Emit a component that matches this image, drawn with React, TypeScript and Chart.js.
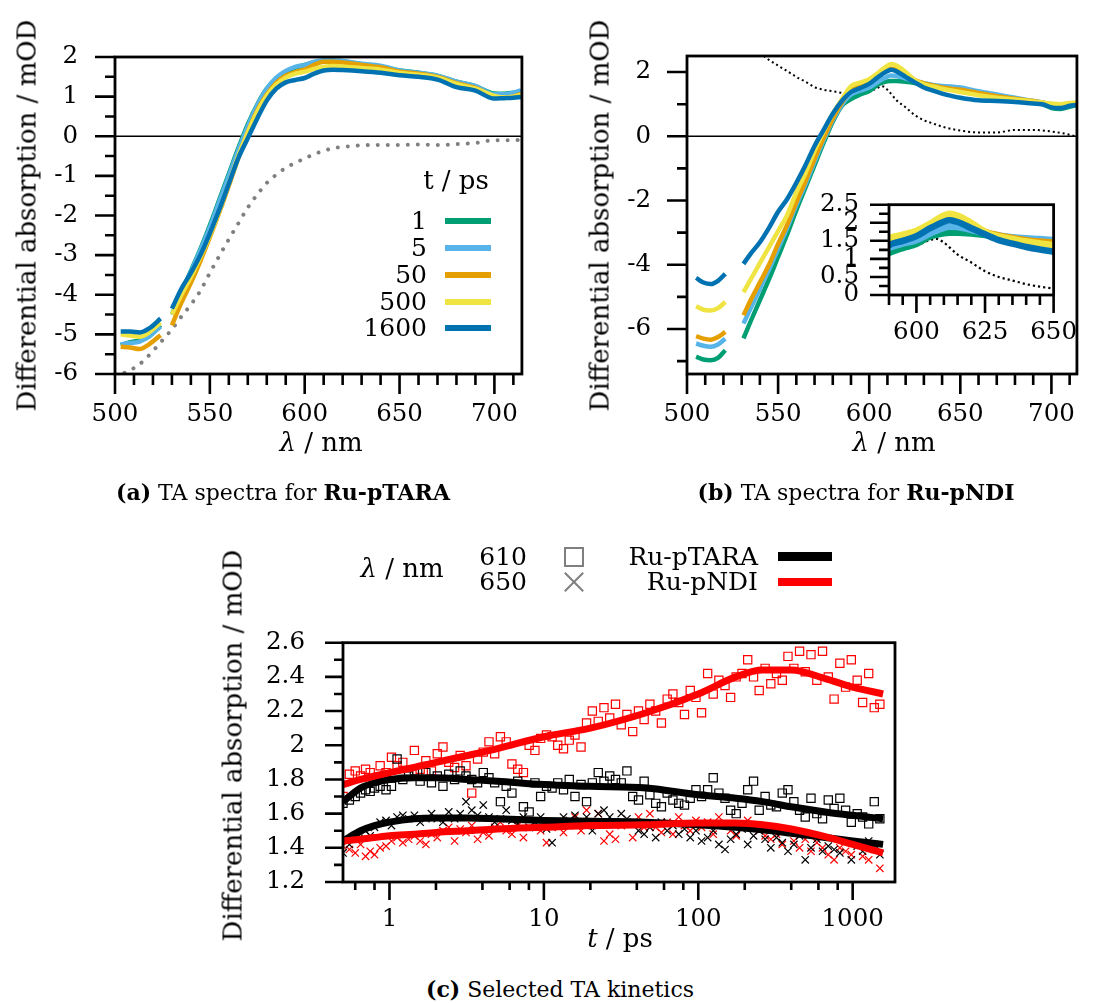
import React, { useEffect, useRef } from 'react';
import { Chart, registerables } from 'chart.js';

Chart.register(...registerables);

const FONT = '"DejaVu Serif", serif';
const TICK_SIZE = 24.5;
const C_GREEN = '#009e73';
const C_LBLUE = '#56b4e9';
const C_ORANGE = '#e69f00';
const C_YELLOW = '#f0e442';
const C_BLUE = '#0072b2';

// ---------------- Panel (a): Ru-pTARA spectra ----------------
const delaysA = ['1', '5', '50', '500', '1600'];
const lambdaA = [503, 508, 513, 518, 524, 527, 530, 535, 540, 545, 550, 555, 560, 565, 570, 575, 580, 585, 590, 595, 600, 605, 610, 615, 620, 630, 640, 650, 660, 670, 680, 690, 700, 705, 710, 714];
const a_1ps = [-5.27, -5.2, -5.15, -5.05, -4.77, null, -4.5, -3.95, -3.4, -2.85, -2.25, -1.6, -0.95, -0.3, 0.3, 0.8, 1.2, 1.45, 1.62, 1.73, 1.8, 1.86, 1.9, 1.9, 1.88, 1.82, 1.76, 1.66, 1.6, 1.52, 1.38, 1.26, 1.08, 1.07, 1.1, 1.13];
const a_5ps = [-5.25, -5.22, -5.18, -5.05, -4.8, null, -4.5, -3.95, -3.42, -2.88, -2.3, -1.65, -1.0, -0.35, 0.25, 0.78, 1.2, 1.48, 1.65, 1.75, 1.8, 1.88, 1.92, 1.92, 1.9, 1.83, 1.78, 1.66, 1.6, 1.53, 1.38, 1.27, 1.06, 1.06, 1.1, 1.16];
const a_50ps = [-5.31, -5.33, -5.37, -5.25, -5.02, null, -4.77, -4.2, -3.7, -3.15, -2.55, -1.92, -1.25, -0.55, 0.1, 0.65, 1.05, 1.35, 1.53, 1.62, 1.68, 1.8, 1.88, 1.88, 1.86, 1.8, 1.74, 1.63, 1.58, 1.5, 1.34, 1.22, 1.0, 0.98, 1.0, 1.07];
const a_500ps = [-5.0, -5.03, -5.06, -4.95, -4.7, null, -4.5, -4.0, -3.55, -3.05, -2.5, -1.88, -1.2, -0.5, 0.1, 0.62, 1.02, 1.3, 1.48, 1.58, 1.63, 1.7, 1.75, 1.77, 1.76, 1.72, 1.68, 1.6, 1.55, 1.48, 1.32, 1.2, 1.02, 0.98, 1.0, 1.04];
const a_1600ps = [-4.93, -4.93, -4.95, -4.85, -4.6, null, -4.35, -3.85, -3.45, -3.0, -2.45, -1.85, -1.2, -0.55, -0.05, 0.45, 0.9, 1.2, 1.36, 1.42, 1.47, 1.58, 1.66, 1.68, 1.67, 1.64, 1.6, 1.54, 1.5, 1.43, 1.24, 1.15, 0.95, 0.96, 0.97, 0.99];
const lambdaAgs = [505, 510, 515, 520, 525, 530, 535, 540, 545, 550, 555, 560, 565, 570, 575, 580, 585, 590, 595, 600, 605, 610, 615, 620, 630, 640, 650, 660, 670, 680, 690, 700, 710, 714];
const a_ground = [-5.97, -5.85, -5.67, -5.42, -5.15, -4.87, -4.55, -4.25, -3.9, -3.45, -3.02, -2.6, -2.2, -1.8, -1.47, -1.18, -0.97, -0.8, -0.67, -0.56, -0.45, -0.37, -0.3, -0.27, -0.23, -0.22, -0.22, -0.21, -0.22, -0.2, -0.17, -0.1, -0.1, -0.09];

// ---------------- Panel (b): Ru-pNDI spectra ----------------
const lambdaB = [505, 509, 513, 517, 521, 526, 531, 535, 540, 545, 550, 555, 560, 565, 570, 575, 580, 585, 590, 595, 600, 605, 610, 612, 615, 620, 625, 630, 635, 640, 645, 650, 660, 670, 680, 690, 695, 700, 705, 710, 714];
const b_1ps = [-6.86, -6.95, -6.97, -6.9, -6.66, null, -6.29, -5.75, -5.1, -4.45, -3.75, -3.05, -2.3, -1.6, -0.9, -0.2, 0.45, 0.95, 1.16, 1.3, 1.41, 1.62, 1.71, 1.72, 1.72, 1.7, 1.66, 1.6, 1.55, 1.5, 1.47, 1.45, 1.35, 1.25, 1.15, 1.05, 1.0, 0.88, 0.85, 0.92, 0.98];
const b_5ps = [-6.45, -6.52, -6.55, -6.48, -6.3, null, -5.83, -5.35, -4.75, -4.15, -3.5, -2.85, -2.15, -1.5, -0.8, -0.12, 0.5, 0.98, 1.3, 1.42, 1.52, 1.7, 1.86, 1.89, 1.88, 1.8, 1.72, 1.65, 1.6, 1.57, 1.55, 1.52, 1.4, 1.3, 1.2, 1.1, 1.05, 1.0, 0.95, 0.98, 1.0];
const b_50ps = [-6.22, -6.3, -6.33, -6.25, -6.09, null, -5.57, -5.1, -4.55, -4.0, -3.35, -2.75, -2.05, -1.4, -0.7, -0.05, 0.55, 1.05, 1.45, 1.57, 1.7, 1.87, 2.05, 2.1, 2.07, 1.93, 1.75, 1.65, 1.58, 1.52, 1.48, 1.45, 1.35, 1.25, 1.17, 1.1, 1.05, 1.0, 0.98, 1.0, 1.02];
const b_500ps = [-5.29, -5.4, -5.42, -5.35, -5.16, null, -4.85, -4.45, -3.95, -3.45, -2.95, -2.45, -1.75, -1.15, -0.45, 0.15, 0.7, 1.15, 1.56, 1.67, 1.78, 1.98, 2.2, 2.25, 2.2, 2.0, 1.75, 1.62, 1.55, 1.48, 1.43, 1.38, 1.28, 1.2, 1.15, 1.08, 1.05, 1.02, 1.0, 1.04, 1.05];
const b_1600ps = [-4.41, -4.55, -4.6, -4.5, -4.28, null, -3.97, -3.65, -3.3, -2.85, -2.35, -1.95, -1.45, -0.9, -0.3, 0.2, 0.7, 1.1, 1.38, 1.5, 1.63, 1.85, 2.03, 2.07, 2.02, 1.85, 1.68, 1.52, 1.42, 1.33, 1.26, 1.2, 1.12, 1.1, 1.07, 1.02, 1.0, 0.9, 0.88, 0.95, 0.98];
const lambdaBgs = [540, 545, 550, 555, 560, 565, 570, 575, 580, 585, 590, 595, 600, 605, 607, 610, 615, 620, 625, 630, 635, 640, 645, 650, 660, 670, 680, 690, 700, 710, 714];
const b_ground = [2.6, 2.38, 2.2, 2.03, 1.85, 1.7, 1.53, 1.45, 1.4, 1.35, 1.27, 1.32, 1.38, 1.52, 1.56, 1.45, 1.12, 0.9, 0.66, 0.5, 0.4, 0.3, 0.23, 0.18, 0.12, 0.12, 0.2, 0.2, 0.15, 0.05, -0.02];

// ---------------- Panel (c): kinetics ----------------
const timesC = [0.5, 0.55, 0.6, 0.65, 0.7, 0.75, 0.8, 0.87, 0.95, 1.03, 1.12, 1.22, 1.33, 1.45, 1.58, 1.72, 1.87, 2.04, 2.22, 2.42, 2.64, 2.87, 3.13, 3.41, 3.72, 4.05, 4.41, 4.8, 5.23, 5.7, 6.21, 6.77, 7.37, 8.03, 8.75, 9.53, 10.4, 11.3, 12.3, 13.4, 14.6, 15.9, 17.4, 18.9, 20.6, 22.5, 24.5, 26.7, 29.1, 31.7, 34.5, 37.6, 41, 44.6, 48.6, 53, 57.7, 62.9, 68.5, 74.7, 81.4, 88.7, 96.6, 105, 115, 125, 136, 149, 162, 176, 192, 209, 228, 248, 271, 295, 321, 350, 381, 416, 453, 493, 537, 586, 638, 695, 758, 826, 900, 980, 1070, 1160, 1270, 1380, 1500];
const pTARA610 = [1.66, 1.68, 1.70, 1.72, 1.74, 1.73, 1.75, 1.76, 1.74, 1.76, 1.92, 1.80, 1.82, 1.85, 1.79, 1.84, 1.78, 1.82, 1.76, 1.83, 1.80, 1.85, 1.82, 1.80, 1.78, 1.84, 1.81, 1.78, 1.67, 1.76, 1.72, 1.79, 1.64, 1.61, 1.78, 1.70, 1.76, 1.75, 1.78, 1.74, 1.80, 1.70, 1.77, 1.67, 1.78, 1.84, 1.79, 1.82, 1.80, 1.78, 1.85, 1.70, 1.68, 1.79, 1.71, 1.66, 1.64, 1.72, 1.68, 1.66, 1.65, 1.69, 1.74, 1.70, 1.74, 1.81, 1.72, 1.69, 1.62, 1.60, 1.66, 1.74, 1.79, 1.62, 1.70, 1.65, 1.64, 1.72, 1.74, 1.67, 1.62, 1.58, 1.69, 1.60, 1.57, 1.68, 1.63, 1.69, 1.62, 1.55, 1.60, 1.58, 1.54, 1.67, 1.57];
const pTARA650 = [1.37, 1.42, 1.45, 1.48, 1.50, 1.47, 1.52, 1.55, 1.56, 1.53, 1.58, 1.59, 1.57, 1.59, 1.55, 1.57, 1.60, 1.57, 1.55, 1.61, 1.57, 1.60, 1.67, 1.62, 1.59, 1.65, 1.58, 1.55, 1.57, 1.62, 1.56, 1.54, 1.58, 1.52, 1.55, 1.58, 1.51, 1.43, 1.55, 1.58, 1.56, 1.59, 1.55, 1.58, 1.50, 1.60, 1.62, 1.58, 1.55, 1.60, 1.57, 1.54, 1.50, 1.48, 1.52, 1.46, 1.55, 1.50, 1.53, 1.48, 1.51, 1.46, 1.50, 1.44, 1.46, 1.50, 1.42, 1.39, 1.45, 1.48, 1.51, 1.42, 1.47, 1.50, 1.45, 1.40, 1.46, 1.43, 1.38, 1.42, 1.47, 1.33, 1.40, 1.45, 1.38, 1.41, 1.39, 1.37, 1.44, 1.33, 1.41, 1.38, 1.44, 1.42, 1.36];
const pNDI610 = [1.70, 1.83, 1.85, 1.82, 1.86, 1.84, 1.80, 1.88, 1.84, 1.93, 1.88, 1.90, 1.84, 1.97, 1.86, 1.91, 1.85, 1.95, 1.99, 1.90, 1.87, 1.94, 1.88, 1.72, 1.92, 1.96, 2.02, 1.95, 2.05, 2.02, 1.89, 1.86, 1.84, 2.00, 1.97, 2.04, 2.06, 2.05, 2.00, 1.98, 2.03, 2.06, 1.99, 2.13, 2.20, 2.14, 2.22, 2.16, 2.24, 2.12, 2.18, 2.08, 2.20, 2.15, 2.24, 2.20, 2.13, 2.27, 2.30, 2.25, 2.18, 2.32, 2.28, 2.19, 2.42, 2.30, 2.38, 2.35, 2.28, 2.40, 2.42, 2.50, 2.40, 2.32, 2.45, 2.36, 2.42, 2.38, 2.52, 2.45, 2.55, 2.43, 2.53, 2.38, 2.55, 2.40, 2.27, 2.48, 2.34, 2.50, 2.38, 2.25, 2.42, 2.22, 2.24];
const pNDI650 = [1.41, 1.39, 1.37, 1.42, 1.35, 1.38, 1.36, 1.40, 1.41, 1.44, 1.46, 1.43, 1.45, 1.47, 1.44, 1.42, 1.48, 1.46, 1.50, 1.52, 1.44, 1.51, 1.49, 1.53, 1.45, 1.49, 1.47, 1.52, 1.55, 1.50, 1.48, 1.53, 1.46, 1.52, 1.55, 1.50, 1.43, 1.52, 1.55, 1.49, 1.53, 1.58, 1.50, 1.62, 1.53, 1.60, 1.44, 1.48, 1.45, 1.53, 1.55, 1.46, 1.58, 1.52, 1.60, 1.52, 1.49, 1.55, 1.48, 1.58, 1.53, 1.50, 1.56, 1.52, 1.55, 1.48, 1.58, 1.53, 1.50, 1.47, 1.52, 1.56, 1.52, 1.50, 1.47, 1.45, 1.48, 1.42, 1.50, 1.44, 1.40, 1.45, 1.38, 1.43, 1.40, 1.36, 1.33, 1.40, 1.38, 1.36, 1.42, 1.35, 1.33, 1.39, 1.28];
const fitTimes = [0.5, 0.65, 0.8, 1, 1.44, 2, 3.2, 5, 10, 20, 46, 100, 175, 261, 400, 664, 1000, 1574];
const fitTARA610 = [1.67, 1.75, 1.78, 1.80, 1.81, 1.81, 1.80, 1.79, 1.77, 1.76, 1.75, 1.71, 1.69, 1.67, 1.64, 1.61, 1.59, 1.57];
const fitTARA650 = [1.44, 1.50, 1.53, 1.55, 1.57, 1.575, 1.575, 1.57, 1.56, 1.555, 1.55, 1.535, 1.52, 1.505, 1.485, 1.46, 1.44, 1.42];
const fitNDI610 = [1.77, 1.80, 1.82, 1.84, 1.87, 1.90, 1.94, 1.98, 2.05, 2.10, 2.19, 2.30, 2.40, 2.44, 2.44, 2.39, 2.34, 2.30];
const fitNDI650 = [1.44, 1.45, 1.46, 1.47, 1.48, 1.49, 1.50, 1.51, 1.52, 1.53, 1.535, 1.545, 1.545, 1.535, 1.51, 1.465, 1.42, 1.37];

// ---------------- tick values ----------------
const xMajorAB = [500, 550, 600, 650, 700];
const xMinorAB = [510, 520, 530, 540, 560, 570, 580, 590, 610, 620, 630, 640, 660, 670, 680, 690, 710];
const yMajorA = [-6, -5, -4, -3, -2, -1, 0, 1, 2];
const yMinorA = [-5.5, -4.5, -3.5, -2.5, -1.5, -0.5, 0.5, 1.5];
const yMajorB = [-6, -4, -2, 0, 2];
const yMinorB = [-7, -5, -3, -1, 1];
const xMajorIn = [600, 625, 650];
const xMinorIn = [590, 595, 605, 610, 615, 620, 630, 635, 640, 645];
const yMajorIn = [0, 0.5, 1, 1.5, 2, 2.5];
const yMinorIn = [0.25, 0.75, 1.25, 1.75, 2.25];
const xMajorC = [1, 10, 100, 1000];
const xMinorC = [0.6, 0.8, 2, 4, 6, 8, 20, 40, 60, 80, 200, 400, 600, 800];
const yMajorC = [1.2, 1.4, 1.6, 1.8, 2, 2.2, 2.4, 2.6];
const yMinorC = [1.3, 1.5, 1.7, 1.9, 2.1, 2.3, 2.5];

type TickSpec = { major: number[]; minor: number[]; majorLen: number; minorLen: number };

function axesPlugin(xs: TickSpec, ys: TickSpec, opts: { zero?: boolean; white?: boolean }) {
  return {
    id: 'gnuFrame',
    beforeDatasetsDraw(chart: any) {
      const { ctx, chartArea: a, scales } = chart;
      ctx.save();
      if (opts.white) {
        ctx.fillStyle = '#fff';
        ctx.fillRect(a.left, a.top, a.right - a.left, a.bottom - a.top);
      }
      if (opts.zero) {
        const y0 = scales.y.getPixelForValue(0);
        ctx.strokeStyle = '#000';
        ctx.lineWidth = 1.6;
        ctx.beginPath();
        ctx.moveTo(a.left, y0);
        ctx.lineTo(a.right, y0);
        ctx.stroke();
      }
      ctx.restore();
    },
    afterDraw(chart: any) {
      const { ctx, chartArea: a, scales } = chart;
      ctx.save();
      ctx.strokeStyle = '#000';
      ctx.lineWidth = 2.6;
      ctx.lineCap = 'butt';
      ctx.beginPath();
      const xt = (vals: number[], len: number) => vals.forEach((v) => {
        const p = scales.x.getPixelForValue(v);
        ctx.moveTo(p, a.bottom);
        ctx.lineTo(p, a.bottom + len);
      });
      const yt = (vals: number[], len: number) => vals.forEach((v) => {
        const p = scales.y.getPixelForValue(v);
        ctx.moveTo(a.left, p);
        ctx.lineTo(a.left - len, p);
      });
      xt(xs.major, xs.majorLen);
      xt(xs.minor, xs.minorLen);
      yt(ys.major, ys.majorLen);
      yt(ys.minor, ys.minorLen);
      ctx.stroke();
      ctx.lineWidth = 2.8;
      ctx.strokeRect(a.left, a.top, a.right - a.left, a.bottom - a.top);
      ctx.restore();
    },
  };
}

function scaleCfg(type: string, min: number, max: number, majors: number[], fmt: (v: number) => string, sizeKey: 'width' | 'height', size: number, pad: number) {
  return {
    type,
    min,
    max,
    grid: { display: false, drawTicks: false },
    border: { display: false },
    ticks: {
      autoSkip: false,
      maxRotation: 0,
      minRotation: 0,
      padding: pad,
      color: '#000',
      font: { family: FONT, size: TICK_SIZE },
      callback: (v: any) => fmt(Number(v)),
    },
    afterBuildTicks: (s: any) => {
      s.ticks = majors.map((v) => ({ value: v }));
    },
    afterFit: (s: any) => {
      s[sizeKey] = size;
    },
  };
}

const fmtNum = (v: number) => String(Number(v.toFixed(2)));

function baseOptions(padding: any, scales: any) {
  return {
    responsive: false,
    animation: false,
    devicePixelRatio: 1,
    events: [],
    layout: { padding },
    plugins: { legend: { display: false }, tooltip: { enabled: false } },
    scales,
  };
}

function pts(xs: number[], ys: (number | null)[]) {
  return xs.map((x, i) => ({ x, y: ys[i] }));
}

function specDatasets(lam: number[], series: (number | null)[][], width: number) {
  const colors = [C_GREEN, C_LBLUE, C_ORANGE, C_YELLOW, C_BLUE];
  return series.map((s, i) => ({
    label: delaysA[i] + ' ps',
    data: pts(lam, s),
    borderColor: colors[i],
    backgroundColor: colors[i],
    borderWidth: width,
    pointRadius: 0,
    cubicInterpolationMode: 'monotone',
    spanGaps: false,
    clip: 0,
    order: 5 - i,
  }));
}

function ChartCanvas(props: { left: number; top: number; width: number; height: number; make: () => any }) {
  const ref = useRef<HTMLCanvasElement>(null);
  useEffect(() => {
    const chart = new Chart(ref.current as HTMLCanvasElement, props.make());
    return () => chart.destroy();
  }, []);
  return (
    <canvas
      ref={ref}
      width={props.width}
      height={props.height}
      style={{ position: 'absolute', left: props.left, top: props.top, width: props.width, height: props.height }}
    />
  );
}

function makeA() {
  const ds: any[] = specDatasets(lambdaA, [a_1ps, a_5ps, a_50ps, a_500ps, a_1600ps], 4.5);
  ds.push({
    label: 'ground',
    data: pts(lambdaAgs, a_ground),
    borderColor: '#808080',
    borderWidth: 4,
    borderDash: [0.01, 10],
    borderCapStyle: 'round',
    pointRadius: 0,
    cubicInterpolationMode: 'monotone',
    clip: 0,
    order: 10,
  });
  return {
    type: 'line',
    data: { datasets: ds },
    options: baseOptions(
      { left: 0, top: 57, right: 18, bottom: 0 },
      {
        x: scaleCfg('linear', 500, 714.5, xMajorAB, fmtNum, 'height', 86, 26),
        y: scaleCfg('linear', -6, 2, yMajorA, fmtNum, 'width', 115, 37),
      }
    ),
    plugins: [axesPlugin({ major: xMajorAB, minor: xMinorAB, majorLen: 20, minorLen: 11 }, { major: yMajorA, minor: yMinorA, majorLen: 20, minorLen: 10 }, { zero: true })],
  };
}

function makeB() {
  const ds: any[] = specDatasets(lambdaB, [b_1ps, b_5ps, b_50ps, b_500ps, b_1600ps], 4.5);
  ds.push({
    label: 'ground',
    data: pts(lambdaBgs, b_ground),
    borderColor: '#000',
    borderWidth: 2,
    borderDash: [2, 3],
    pointRadius: 0,
    cubicInterpolationMode: 'monotone',
    clip: 0,
    order: 10,
  });
  return {
    type: 'line',
    data: { datasets: ds },
    options: baseOptions(
      { left: 0, top: 56, right: 3, bottom: 0 },
      {
        x: scaleCfg('linear', 500, 714, xMajorAB, fmtNum, 'height', 86, 26),
        y: scaleCfg('linear', -7.4, 2.5, yMajorB, fmtNum, 'width', 127, 36),
      }
    ),
    plugins: [axesPlugin({ major: xMajorAB, minor: xMinorAB, majorLen: 20, minorLen: 11 }, { major: yMajorB, minor: yMinorB, majorLen: 20, minorLen: 10 }, { zero: true })],
  };
}

function makeInset() {
  const ds: any[] = specDatasets(lambdaB, [b_1ps, b_5ps, b_50ps, b_500ps, b_1600ps], 6.5);
  ds.push({
    label: 'ground',
    data: pts(lambdaBgs, b_ground),
    borderColor: '#000',
    borderWidth: 2.2,
    borderDash: [2.2, 3],
    pointRadius: 0,
    cubicInterpolationMode: 'monotone',
    clip: 0,
    order: 10,
  });
  return {
    type: 'line',
    data: { datasets: ds },
    options: baseOptions(
      { left: 0, top: 20, right: 27, bottom: 0 },
      {
        x: scaleCfg('linear', 590, 650, xMajorIn, fmtNum, 'height', 45, 23),
        y: scaleCfg('linear', 0, 2.5, yMajorIn, fmtNum, 'width', 89, 30),
      }
    ),
    plugins: [axesPlugin({ major: xMajorIn, minor: xMinorIn, majorLen: 18, minorLen: 10 }, { major: yMajorIn, minor: yMinorIn, majorLen: 19, minorLen: 10 }, { white: true })],
  };
}

function makeC() {
  const marker = (data: number[], color: string, style: string, r: number) => ({
    data: pts(timesC, data),
    showLine: false,
    pointStyle: style,
    pointRadius: r,
    pointBorderWidth: 1.2,
    pointBorderColor: color,
    pointBackgroundColor: 'rgba(0,0,0,0)',
    borderColor: color,
    order: 10,
  });
  const fit = (data: number[], color: string, ord: number) => ({
    data: pts(fitTimes, data),
    borderColor: color,
    borderWidth: 7,
    pointRadius: 0,
    cubicInterpolationMode: 'monotone',
    clip: 0,
    order: ord,
  });
  return {
    type: 'line',
    data: {
      datasets: [
        { label: 'Ru-pTARA 610', ...marker(pTARA610, '#000', 'rect', 5.8) },
        { label: 'Ru-pTARA 650', ...marker(pTARA650, '#000', 'crossRot', 5.2) },
        { label: 'Ru-pNDI 610', ...marker(pNDI610, '#ff0000', 'rect', 5.8) },
        { label: 'Ru-pNDI 650', ...marker(pNDI650, '#ff0000', 'crossRot', 5.2) },
        { label: 'Ru-pTARA fit 610', ...fit(fitTARA610, '#000', 3) },
        { label: 'Ru-pTARA fit 650', ...fit(fitTARA650, '#000', 2) },
        { label: 'Ru-pNDI fit 610', ...fit(fitNDI610, '#ff0000', 1) },
        { label: 'Ru-pNDI fit 650', ...fit(fitNDI650, '#ff0000', 0) },
      ],
    },
    options: baseOptions(
      { left: 0, top: 19, right: 25, bottom: 0 },
      {
        x: scaleCfg('logarithmic', 0.5, 1880, xMajorC, (v) => String(v), 'height', 68, 23),
        y: scaleCfg('linear', 1.2, 2.6, yMajorC, fmtNum, 'width', 143, 38),
      }
    ),
    plugins: [axesPlugin({ major: xMajorC, minor: xMinorC, majorLen: 18, minorLen: 8 }, { major: yMajorC, minor: yMinorC, majorLen: 18, minorLen: 9 }, {})],
  };
}

type TxtProps = { x: number; y: number; size: number; align?: 'left' | 'center' | 'right'; rotate?: boolean; children: any };
function Txt({ x, y, size, align = 'center', rotate = false, children }: TxtProps) {
  const w = 600;
  const lh = Math.round(size * 1.2);
  let left = x - w / 2;
  if (align === 'left') left = x;
  if (align === 'right') left = x - w;
  return (
    <div
      style={{
        position: 'absolute',
        left,
        top: y - lh / 2,
        width: w,
        height: lh,
        lineHeight: lh + 'px',
        fontSize: size,
        textAlign: align,
        whiteSpace: 'nowrap',
        transform: rotate ? 'rotate(-90deg)' : undefined,
        transformOrigin: 'center center',
      }}
    >
      {children}
    </div>
  );
}

const legendAColors = [C_GREEN, C_LBLUE, C_ORANGE, C_YELLOW, C_BLUE];
const legendAY = [221, 248, 275, 302, 328];

export default function App() {
  useEffect(() => {
    document.body.style.margin = '0';
  }, []);
  return (
    <div style={{ position: 'absolute', left: 0, top: 0, width: 1101, height: 1003, background: '#fff', fontFamily: FONT, color: '#000', overflow: 'hidden' }}>
      <ChartCanvas left={0} top={0} width={545} height={460} make={makeA} />
      <ChartCanvas left={560} top={0} width={541} height={460} make={makeB} />
      <ChartCanvas left={800} top={160} width={300} height={180} make={makeInset} />
      <ChartCanvas left={200} top={590} width={720} height={360} make={makeC} />

      {/* axis titles */}
      <Txt x={27} y={215} size={26} rotate>Differential absorption / mOD</Txt>
      <Txt x={600} y={215} size={26} rotate>Differential absorption / mOD</Txt>
      <Txt x={233} y={745} size={26} rotate>Differential absorption / mOD</Txt>
      <Txt x={321} y={442} size={26}><i>λ</i> / nm</Txt>
      <Txt x={894} y={442} size={26}><i>λ</i> / nm</Txt>
      <Txt x={620} y={938} size={26}><i>t</i> / ps</Txt>

      {/* legend (a) */}
      <Txt x={456} y={180} size={26}>t / ps</Txt>
      {delaysA.map((d, i) => (
        <React.Fragment key={d}>
          <Txt x={427} y={legendAY[i]} size={25} align="right">{d}</Txt>
          <div style={{ position: 'absolute', left: 445, top: legendAY[i] - 3, width: 46, height: 6, background: legendAColors[i] }} />
        </React.Fragment>
      ))}

      {/* legend (c) */}
      <Txt x={402} y={568} size={26}><i>λ</i> / nm</Txt>
      <Txt x={527} y={557} size={25} align="right">610</Txt>
      <Txt x={527} y={582} size={25} align="right">650</Txt>
      <div style={{ position: 'absolute', left: 564, top: 547, width: 16, height: 16, border: '2px solid #7f7f7f' }} />
      <div style={{ position: 'absolute', left: 561, top: 581, width: 26, height: 2, background: '#7f7f7f', transform: 'rotate(45deg)' }} />
      <div style={{ position: 'absolute', left: 561, top: 581, width: 26, height: 2, background: '#7f7f7f', transform: 'rotate(-45deg)' }} />
      <Txt x={758} y={557} size={25} align="right">Ru-pTARA</Txt>
      <Txt x={758} y={582} size={25} align="right">Ru-pNDI</Txt>
      <div style={{ position: 'absolute', left: 778, top: 552, width: 54, height: 9, background: '#000' }} />
      <div style={{ position: 'absolute', left: 778, top: 578, width: 54, height: 8, background: '#ff0000' }} />

      {/* captions */}
      <Txt x={283} y={492} size={22}><b>(a)</b> TA spectra for <b>Ru-pTARA</b></Txt>
      <Txt x={856} y={492} size={22}><b>(b)</b> TA spectra for <b>Ru-pNDI</b></Txt>
      <Txt x={560} y={989} size={22}><b>(c)</b> Selected TA kinetics</Txt>
    </div>
  );
}
